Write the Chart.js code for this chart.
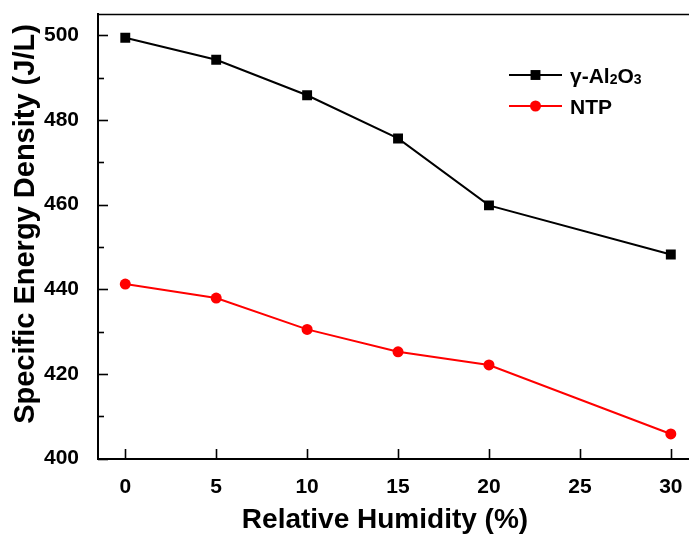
<!DOCTYPE html>
<html>
<head>
<meta charset="utf-8">
<script src="https://cdn.jsdelivr.net/npm/chart.js@4"></script>
<style>
  html, body { margin: 0; padding: 0; background: #ffffff; overflow: hidden; }
  #wrap { width: 689px; height: 535px; }
</style>
</head>
<body>
<div id="wrap"><canvas id="c" width="689" height="535"></canvas></div>
<script>
// ---- data ----
const humidity = [0, 5, 10, 15, 20, 30];
const al2o3Energy = [499.4, 494.2, 485.8, 475.6, 459.8, 448.2];
const ntpEnergy = [441.2, 437.9, 430.5, 425.2, 422.1, 405.8];
const xTickValues = [0, 5, 10, 15, 20, 25, 30];
const yTickValues = [400, 420, 440, 460, 480, 500];
const yMinorTickValues = [410, 430, 450, 470, 490];
const seriesLabels = ['γ-Al₂O₃', 'NTP'];
const xTitle = 'Relative Humidity (%)';
const yTitle = 'Specific Energy Density (J/L)';

// visible x range of the (cropped) plot frame
const X_MIN = -1.5, X_VISIBLE_MAX = 31;
const FONT = '"Liberation Sans", Arial, sans-serif';

function drawMarker(ctx, style, r, x, y, color) {
  ctx.save();
  ctx.fillStyle = color;
  ctx.beginPath();
  if (style === 'rect') {
    const s = Math.SQRT1_2 * r;
    ctx.rect(x - s, y - s, 2 * s, 2 * s);
  } else {
    ctx.arc(x, y, r, 0, Math.PI * 2);
  }
  ctx.fill();
  ctx.restore();
}

function zeroPad(s) {
  s.paddingLeft = 0; s.paddingRight = 0; s.paddingTop = 0; s.paddingBottom = 0;
}

const decorPlugin = {
  id: 'decor',
  afterDraw(chart) {
    const ctx = chart.ctx;
    const ca = chart.chartArea;
    const W = chart.width;
    const xs = chart.scales.x, ys = chart.scales.y;
    const axisY = Math.round(ca.bottom);
    ctx.save();
    ctx.strokeStyle = '#000';
    ctx.lineCap = 'butt';
    // top frame line (runs off the right edge, like the cropped original)
    ctx.lineWidth = 1.6;
    ctx.beginPath();
    ctx.moveTo(ca.left, ca.top + 0.5);
    ctx.lineTo(W, ca.top + 0.5);
    ctx.stroke();
    // continue the bottom axis line to the edge, at the same pixel row as the library border
    ctx.lineWidth = 2;
    ctx.beginPath();
    ctx.moveTo(ca.right - 4, axisY);
    ctx.lineTo(W, axisY);
    ctx.stroke();
    // inward ticks
    ctx.lineWidth = 1.6;
    xTickValues.forEach(v => {
      const px = Math.round(xs.getPixelForValue(v)) + 0.5;
      ctx.beginPath(); ctx.moveTo(px, axisY); ctx.lineTo(px, axisY - 10); ctx.stroke();
    });
    yTickValues.forEach(v => {
      const py = Math.round(ys.getPixelForValue(v)) + 0.5;
      ctx.beginPath(); ctx.moveTo(ca.left, py); ctx.lineTo(ca.left + 10, py); ctx.stroke();
    });
    yMinorTickValues.forEach(v => {
      const py = Math.round(ys.getPixelForValue(v)) + 0.5;
      ctx.beginPath(); ctx.moveTo(ca.left, py); ctx.lineTo(ca.left + 6, py); ctx.stroke();
    });
    // axis titles
    ctx.fillStyle = '#000';
    ctx.font = 'bold 28px ' + FONT;
    ctx.textAlign = 'center';
    ctx.textBaseline = 'alphabetic';
    ctx.fillText(xTitle, 385, 528);
    ctx.save();
    ctx.translate(34, 224);
    ctx.rotate(-Math.PI / 2);
    ctx.font = 'bold 29px ' + FONT;
    ctx.fillText(yTitle, 0, 0);
    ctx.restore();
    // legend
    const lx0 = 509, lx1 = 562, tx = 570;
    const rows = [75, 106];
    chart.data.datasets.forEach((ds, i) => {
      const y = rows[i];
      ctx.strokeStyle = ds.borderColor;
      ctx.lineWidth = ds.borderWidth;
      ctx.beginPath(); ctx.moveTo(lx0, y); ctx.lineTo(lx1, y); ctx.stroke();
      drawMarker(ctx, ds.pointStyle, ds.pointRadius, (lx0 + lx1) / 2, y, ds.backgroundColor);
      let x = tx;
      const base = y + 7.5;
      ctx.textAlign = 'left';
      ctx.fillStyle = '#000';
      const subMap = { '₀':'0','₁':'1','₂':'2','₃':'3','₄':'4','₅':'5','₆':'6','₇':'7','₈':'8','₉':'9' };
      for (const ch of ds.label) {
        if (subMap[ch]) {
          ctx.font = 'bold 14px ' + FONT;
          ctx.fillText(subMap[ch], x, base + 1);
          x += ctx.measureText(subMap[ch]).width;
        } else {
          ctx.font = 'bold 21px ' + FONT;
          ctx.fillText(ch, x, base);
          x += ctx.measureText(ch).width;
        }
      }
    });
    ctx.restore();
  }
};

const chart = new Chart(document.getElementById('c'), {
  type: 'line',
  data: {
    datasets: [
      {
        label: seriesLabels[0],
        data: humidity.map((x, i) => ({ x: x, y: al2o3Energy[i] })),
        borderColor: '#000000',
        backgroundColor: '#000000',
        borderWidth: 2,
        pointStyle: 'rect',
        pointRadius: 7,
        pointBorderWidth: 0,
        tension: 0
      },
      {
        label: seriesLabels[1],
        data: humidity.map((x, i) => ({ x: x, y: ntpEnergy[i] })),
        borderColor: '#ff0000',
        backgroundColor: '#ff0000',
        borderWidth: 2,
        pointStyle: 'circle',
        pointRadius: 5.5,
        pointBorderWidth: 0,
        tension: 0
      }
    ]
  },
  options: {
    responsive: false,
    animation: false,
    devicePixelRatio: 1,
    layout: { padding: { top: 14, right: 0, left: 0, bottom: 0 } },
    plugins: { legend: { display: false }, tooltip: { enabled: false } },
    scales: {
      x: {
        type: 'linear',
        min: X_MIN,
        max: X_VISIBLE_MAX,
        afterBuildTicks: s => { s.ticks = xTickValues.map(v => ({ value: v })); },
        afterFit: s => { s.height = 76.5; zeroPad(s); },
        grid: { display: false },
        border: { display: true, color: '#000', width: 2 },
        ticks: {
          color: '#000',
          padding: 8,
          maxRotation: 0,
          font: { family: FONT, weight: 'bold', size: 21 }
        }
      },
      y: {
        type: 'linear',
        min: 400,
        max: 505,
        afterBuildTicks: s => { s.ticks = yTickValues.map(v => ({ value: v })); },
        afterFit: s => { s.width = 98; zeroPad(s); },
        grid: { display: false },
        border: { display: true, color: '#000', width: 2 },
        ticks: {
          color: '#000',
          padding: 11,
          font: { family: FONT, weight: 'bold', size: 21 }
        }
      }
    }
  },
  plugins: [decorPlugin]
});

// The layout keeps a few pixels on the right; shorten the x range so the
// scale keeps the same pixels-per-unit as a frame reaching the canvas edge.
(function fitRange() {
  for (let k = 0; k < 2; k++) {
    const ca = chart.chartArea;
    const pxPerUnit = (chart.width - ca.left) / (X_VISIBLE_MAX - X_MIN);
    const newMax = X_MIN + (ca.right - ca.left) / pxPerUnit;
    chart.options.scales.x.max = newMax;
    chart.update('none');
  }
})();
</script>
</body>
</html>
